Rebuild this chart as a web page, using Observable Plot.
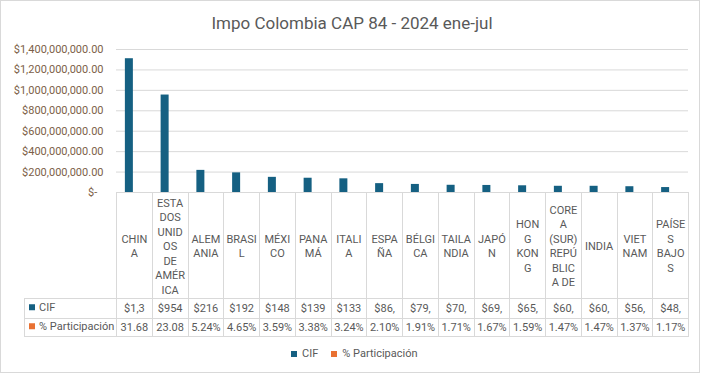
<!DOCTYPE html>
<html>
<head>
<meta charset="utf-8">
<script src="https://cdn.jsdelivr.net/npm/d3@7"></script>
<script src="https://cdn.jsdelivr.net/npm/@observablehq/plot@0.6"></script>
<style>
  body { margin: 0; background: #fff; }
  #chart { position: relative; width: 702px; height: 374px; font-family: Roboto, "Noto Sans", sans-serif; overflow: hidden; }
  #frame { position: absolute; left: 0; top: 0; width: 700px; height: 373px; border: 1px solid #d9d9d9; box-sizing: border-box; pointer-events: none; }
  #title { position: absolute; left: 0; top: 13px; width: 704px; text-align: center; font-size: 17px; line-height: 20px; color: #595959; white-space: nowrap; }
  #legend { position: absolute; left: 291px; top: 347px; font-size: 11px; line-height: 14px; color: #595959; white-space: nowrap; }
  #legend .sw { display: inline-block; width: 6px; height: 6px; margin-right: 5px; vertical-align: 0px; }
  #legend .item { display: inline-block; margin-right: 13px; }
  #plot { position: absolute; left: 0; top: 0; }
</style>
</head>
<body>
<div id="chart">
  <div id="plot"></div>
  <div id="title"></div>
  <div id="legend"></div>
  <div id="frame"></div>
</div>
<script>
// ---------- data ----------
const titleText = "Impo Colombia CAP 84 - 2024 ene-jul";
const countries = ["CHINA", "ESTADOS UNIDOS DE AMÉRICA", "ALEMANIA", "BRASIL", "MÉXICO", "PANAMÁ", "ITALIA", "ESPAÑA",
  "BÉLGICA", "TAILANDIA", "JAPÓN", "HONG KONG", "COREA (SUR) REPÚBLICA DE", "INDIA", "VIETNAM", "PAÍSES BAJOS"];
const tickLabels = ["CHIN\nA", "ESTA\nDOS\nUNID\nOS\nDE\nAMÉR\nICA", "ALEM\nANIA", "BRASI\nL", "MÉXI\nCO", "PANA\nMÁ",
  "ITALI\nA", "ESPA\nÑA", "BÉLGI\nCA", "TAILA\nNDIA", "JAPÓ\nN", "HON\nG\nKON\nG", "CORE\nA\n(SUR)\nREPÚ\nBLIC\nA DE",
  "INDIA", "VIET\nNAM", "PAÍSE\nS\nBAJO\nS"];
const cifUSD = [1309.7e6, 954.2e6, 216.6e6, 192.2e6, 148.4e6, 139.7e6, 133.9e6, 86.8e6,
  79.0e6, 70.7e6, 69.0e6, 65.7e6, 60.8e6, 60.8e6, 56.6e6, 48.4e6];
const participacion = [31.68, 23.08, 5.24, 4.65, 3.59, 3.38, 3.24, 2.10, 1.91, 1.71, 1.67, 1.59, 1.47, 1.47, 1.37, 1.17];
const seriesNames = ["CIF", "% Participación"];
const seriesColors = ["#156082", "#E97132"];
const yTicks = [0, 200e6, 400e6, 600e6, 800e6, 1000e6, 1200e6, 1400e6];

// ---------- derived ----------
const rows = countries.map((c, i) => ({country: c, label: tickLabels[i], cif: cifUSD[i], pct: participacion[i] / 100}));
const fmtMoney = d3.format("$,.2f");
const fmtPct = d3.format(".2%");
// Excel data table: wrapped cell shows only the first line
const cifText = d => fmtMoney(d.cif).slice(0, 4);
const pctText = d => fmtPct(d.pct).slice(0, 5);

const W = 702, H = 374, mL = 116, mR = 14, mT = 49, mB = 182;
const bw = (W - mL - mR) / countries.length;
const barW = 8;
const grid = "#d9d9d9", txt = "#595959";

function dataTable(index, scales, values, dims) {
  const x = scales.x;
  const band = x.bandwidth ? x.bandwidth() : bw;
  const top = dims.height - dims.marginBottom;
  const hdrB = top + 106, cifB = hdrB + 19.5, pctB = cifB + 18.5;
  const left = dims.marginLeft, right = dims.width - dims.marginRight;
  const labelLeft = left - 92;
  const g = d3.create("svg:g");
  const lines = g.append("g").attr("stroke", grid).attr("stroke-width", 1).attr("shape-rendering", "crispEdges");
  const hl = (y, x1, x2) => lines.append("line").attr("x1", x1).attr("x2", x2).attr("y1", y).attr("y2", y);
  const vl = (xx, y1, y2) => lines.append("line").attr("x1", xx).attr("x2", xx).attr("y1", y1).attr("y2", y2);
  hl(top + 0.5, left, right);
  hl(hdrB + 0.5, labelLeft, right);
  hl(cifB + 0.5, labelLeft, right);
  hl(pctB + 0.5, labelLeft, right);
  vl(labelLeft + 0.5, hdrB, pctB + 1);
  const dom = x.domain();
  const edges = dom.map(c => x(c)).concat([x(dom[dom.length - 1]) + band]);
  edges.forEach(e => vl(Math.round(e) + 0.5, top, pctB + 1));
  // row headers
  [cifB, pctB].forEach((b, i) => {
    const cy = b - (i === 0 ? 19.5 : 18.5) / 2;
    g.append("rect").attr("x", labelLeft + 5).attr("y", cy - 3.5).attr("width", 6).attr("height", 6).attr("fill", seriesColors[i]);
    g.append("text").attr("x", labelLeft + 15).attr("y", cy).attr("dy", "0.32em")
      .attr("text-anchor", "start")
      .attr("fill", txt).attr("font-size", 11).text(seriesNames[i]);
  });
  return g.node();
}

const plot = Plot.plot({
  width: W, height: H,
  marginLeft: mL, marginRight: mR, marginTop: mT, marginBottom: mB,
  style: {fontFamily: "Roboto, 'Noto Sans', sans-serif", fontSize: "11px", color: txt, background: "transparent"},
  x: {domain: countries, padding: 0, round: false, axis: null},
  y: {domain: [0, 1400e6], axis: null},
  marks: [
    Plot.gridY(yTicks, {stroke: grid, strokeOpacity: 1}),
    Plot.axisY(yTicks, {tickSize: 0, tickPadding: 13, tickFormat: d => d === 0 ? "$-\u2007" : fmtMoney(d), color: "#7d5f48", fontSize: 11}),
    Plot.barY(rows, {x: "country", y: "cif", fill: seriesColors[0], insetLeft: bw / 2 - barW - 1, insetRight: bw / 2 + 1}),
    Plot.barY(rows, {x: "country", y: "pct", fill: seriesColors[1], insetLeft: bw / 2, insetRight: bw / 2 - barW}),
    dataTable,
    Plot.text(rows, {x: "country", text: "label", frameAnchor: "bottom", dy: 53, lineHeight: 1.32, lineAnchor: "middle", fill: txt, fontSize: 11}),
    Plot.text(rows, {x: "country", text: cifText, frameAnchor: "bottom", dy: 115.5, lineAnchor: "middle", fill: txt, fontSize: 11}),
    Plot.text(rows, {x: "country", text: pctText, frameAnchor: "bottom", dy: 134.5, lineAnchor: "middle", fill: txt, fontSize: 11})
  ]
});
document.getElementById("plot").appendChild(plot);
document.getElementById("title").textContent = titleText;
const legend = d3.select("#legend");
seriesNames.forEach((s, i) => {
  const it = legend.append("span").attr("class", "item");
  it.append("span").attr("class", "sw").style("background", seriesColors[i]);
  it.append("span").text(s);
});
</script>
</body>
</html>
